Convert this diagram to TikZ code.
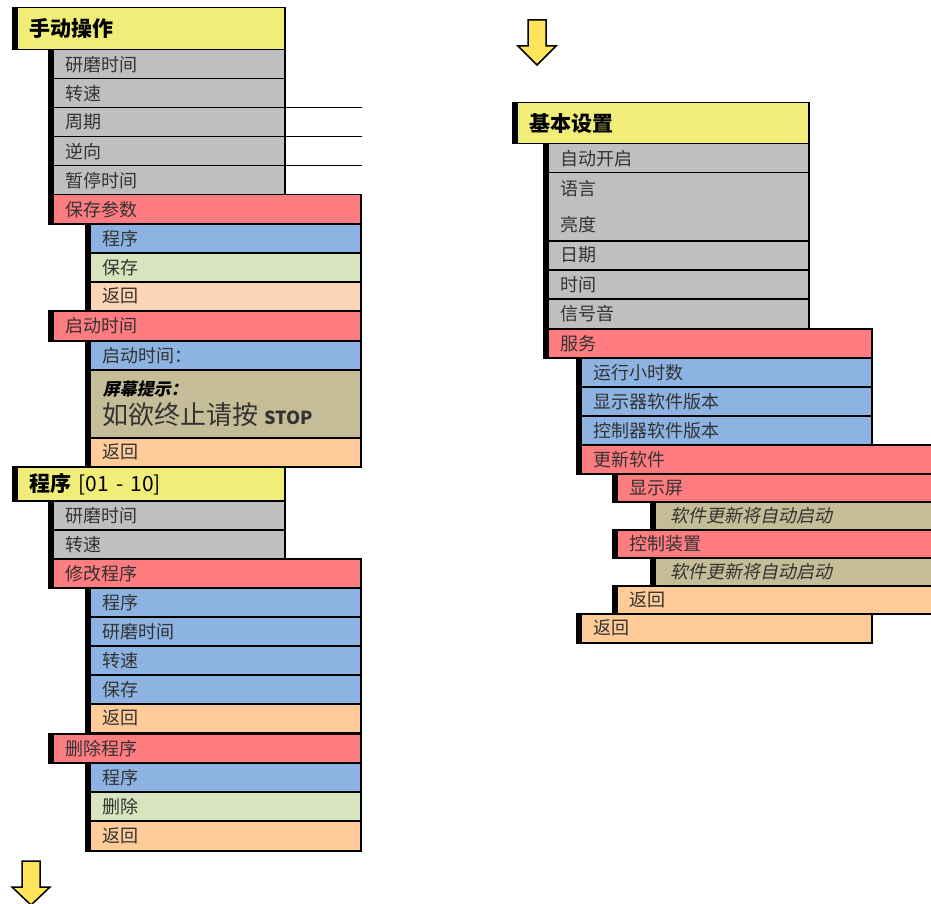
\documentclass[tikz,border=0pt]{standalone}
\usepackage{fontspec}
\setmainfont{Noto Sans CJK SC}[AutoFakeSlant=0.2]
\newfontfamily\hintfont{Noto Sans CJK SC}[UprightFeatures={FakeSlant=0.2},
  BoldFeatures={FakeSlant=0.2}]
\usepackage{tikz}
\usetikzlibrary{positioning}

\definecolor{hdyellow}{RGB}{240,238,120}
\definecolor{itemgray}{RGB}{191,191,191}
\definecolor{itemred}{RGB}{255,124,128}
\definecolor{itemblue}{RGB}{141,179,226}
\definecolor{itemgreen}{RGB}{215,228,189}
\definecolor{itempink}{RGB}{251,213,181}
\definecolor{itemorange}{RGB}{255,204,153}
\definecolor{itemtan}{RGB}{196,189,151}
\definecolor{arrowyellow}{RGB}{255,229,92}

\tikzstyle{item}=[draw=black, line width=1.5pt, anchor=north west,
               inner xsep=17pt, inner ysep=0pt, minimum height=29pt,
               align=left, font=\fontsize{18}{21}\selectfont, text=black!80,
               path picture={\fill[black] (path picture bounding box.north west)
               rectangle ([xshift=5pt]path picture bounding box.south west);}]
\tikzstyle{hd}=[item, text width=238pt, text=black,
               font=\fontsize{21}{24}\selectfont\bfseries]
\tikzstyle{lv1}=[item, text width=202pt]
\tikzstyle{lv1w}=[item, text width=278pt]
\tikzstyle{lv2}=[item, text width=241pt]
\tikzstyle{rhd}=[hd, text width=262pt]
\tikzstyle{rlv1}=[item, text width=231pt]
\tikzstyle{rlv1w}=[item, text width=294pt]
\tikzstyle{rlv2}=[item, text width=261pt]
\tikzstyle{rlv2w}=[item, text width=324pt]
\tikzstyle{rlv3}=[item, text width=288pt, minimum height=28pt]
\tikzstyle{rlv4}=[item, text width=247pt, inner xsep=20pt, minimum height=28pt,
               font=\fontsize{18}{21}\selectfont\itshape]
\tikzstyle{down}=[draw=black, line width=1.5pt, fill=arrowyellow, line join=miter]

\begin{document}
\begin{tikzpicture}[x=1pt,y=-1pt]
\useasboundingbox (0,0) rectangle (931,904);

% manual operation
\node (man) [hd, fill=hdyellow, minimum height=42pt] at (12,7) {手动操作};
\node (grind) [lv1, fill=itemgray] at (48,49) {研磨时间};
\node (speed) [lv1, fill=itemgray] at (48,78) {转速};
\node (cyc) [lv1, fill=itemgray] at (48,107) {周期};
\node (rev) [lv1, fill=itemgray] at (48,136) {逆向};
\node (pause) [lv1, fill=itemgray] at (48,165) {暂停时间};
\draw[line width=0.8pt] (cyc.north east) -- ++(76,0);
\draw[line width=0.8pt] (rev.north east) -- ++(76,0);
\draw[line width=0.8pt] (pause.north east) -- ++(76,0);
\node (savep) [lv1w, fill=itemred] at (48,194) {保存参数};
\node (sprog) [lv2, fill=itemblue] at (85,223) {程序};
\node (ssave) [lv2, fill=itemgreen] at (85,252) {保存};
\node (sback) [lv2, fill=itempink] at (85,281) {返回};
\node (start) [lv1w, fill=itemred, minimum height=30pt] at (48,310) {启动时间};
\node (stime) [lv2, fill=itemblue] at (85,340) {启动时间：};
\node (hint) [lv2, fill=itemtan, minimum height=68pt] at (85,369)
  {{\hintfont\bfseries\fontsize{17}{20}\selectfont\color{black}屏幕提示：}\\[4pt]{\fontsize{26}{30}\selectfont 如欲终止请按
   {\fontsize{18}{20}\selectfont\bfseries STOP}}};
\node (hback) [lv2, fill=itemorange] at (85,437) {返回};

% programs
\node (prog) [hd, fill=hdyellow, minimum height=34pt] at (12,466)
  {程序 {\mdseries[01 - 10]}};
\node (pgrind) [lv1, fill=itemgray] at (48,500) {研磨时间};
\node (pspeed) [lv1, fill=itemgray] at (48,529) {转速};
\node (edit) [lv1w, fill=itemred] at (48,558) {修改程序};
\node (eprog) [lv2, fill=itemblue] at (85,587) {程序};
\node (egrind) [lv2, fill=itemblue] at (85,616) {研磨时间};
\node (espeed) [lv2, fill=itemblue] at (85,645) {转速};
\node (esave) [lv2, fill=itemblue] at (85,674) {保存};
\node (eback) [lv2, fill=itemorange] at (85,703) {返回};
\node (del) [lv1w, fill=itemred] at (48,733) {删除程序};
\node (dprog) [lv2, fill=itemblue] at (85,762) {程序};
\node (ddel) [lv2, fill=itemgreen] at (85,791) {删除};
\node (dback) [lv2, fill=itemorange, minimum height=30pt] at (85,820) {返回};

\draw[down] (22,861) -- (40,861) -- (40,887) -- (50,887) -- (31,905)
  -- (12,887) -- (22,887) -- cycle;

% basic settings
\draw[down] (528,20) -- (546,20) -- (546,46) -- (556,46) -- (537,65)
  -- (518,46) -- (528,46) -- cycle;
\node (basic) [rhd, fill=hdyellow, minimum height=41pt] at (512,102) {基本设置};
\node (auto) [rlv1, fill=itemgray] at (543,143) {自动开启};
\node (lang) [rlv1, fill=itemgray, minimum height=68pt] at (543,172) {语言\\[15pt]亮度};
\node (date) [rlv1, fill=itemgray] at (543,240) {日期};
\node (time) [rlv1, fill=itemgray] at (543,269) {时间};
\node (beep) [rlv1, fill=itemgray, minimum height=30pt] at (543,298) {信号音};
\node (serv) [rlv1w, fill=itemred] at (543,328) {服务};
\node (hours) [rlv2, fill=itemblue] at (576,357) {运行小时数};
\node (dver) [rlv2, fill=itemblue] at (576,386) {显示器软件版本};
\node (cver) [rlv2, fill=itemblue] at (576,415) {控制器软件版本};
\node (upd) [rlv2w, fill=itemred] at (576,444) {更新软件};
\node (disp) [rlv3, fill=itemred] at (612,473) {显示屏};
\node (dauto) [rlv4, fill=itemtan] at (650,501) {软件更新将自动启动};
\node (ctrl) [rlv3, fill=itemred] at (612,529) {控制装置};
\node (cauto) [rlv4, fill=itemtan] at (650,557) {软件更新将自动启动};
\node (uback) [rlv3, fill=itemorange] at (612,585) {返回};
\node (back) [rlv2, fill=itemorange] at (576,613) {返回};
\end{tikzpicture}
\end{document}
